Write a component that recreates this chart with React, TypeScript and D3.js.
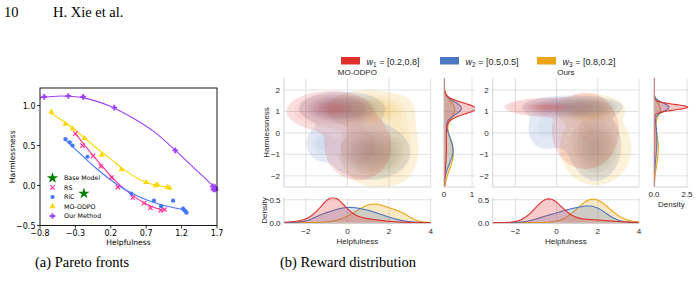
import React from "react";
import * as d3 from "d3";

// ---------- (a) Pareto fronts: points ----------
const baseModel = [[-0.18, -0.1]];
const rsPoints = [[-0.3, 0.65], [-0.2, 0.5], [-0.05, 0.37], [0.06, 0.24], [0.21, 0.1], [0.3, -0.02], [0.51, -0.15], [0.67, -0.22], [0.76, -0.28], [0.905, -0.31], [0.96, -0.3]];
const ricPoints = [[-0.44, 0.58], [-0.38, 0.54], [-0.34, 0.5], [-0.13, 0.36], [0.49, -0.1], [0.81, -0.19], [0.91, -0.26], [1.08, -0.19], [1.22, -0.29], [1.24, -0.31], [1.26, -0.33], [1.27, -0.34]];
const moodpoPoints = [[-0.64, 0.92], [-0.44, 0.77], [-0.34, 0.71], [-0.17, 0.59], [0.07, 0.38], [0.35, 0.2], [0.7, 0.04], [0.83, 0.0], [0.86, 0.01], [1.0, -0.02], [1.03, -0.03]];
const oursPoints = [[-0.74, 1.11], [-0.4, 1.12], [-0.19, 1.11], [0.25, 0.975], [1.11, 0.44], [1.64, -0.01], [1.66, -0.04], [1.68, -0.05], [1.67, -0.02], [1.65, -0.05]];

// fitted fronts
const rsCurve = [[-0.3, 0.65], [-0.1, 0.43], [0.1, 0.22], [0.3, 0.03], [0.5, -0.12], [0.7, -0.23], [0.9, -0.3], [0.96, -0.31]];
const ricCurve = [[-0.44, 0.57], [-0.2, 0.37], [0.0, 0.21], [0.2, 0.07], [0.4, -0.05], [0.6, -0.14], [0.8, -0.21], [1.0, -0.26], [1.27, -0.31]];
const moodpoCurve = [[-0.64, 0.9], [-0.4, 0.76], [-0.2, 0.62], [0.0, 0.47], [0.2, 0.33], [0.4, 0.19], [0.6, 0.08], [0.8, 0.01], [1.04, -0.02]];
const oursCurve = [[-0.8, 1.1], [-0.5, 1.12], [-0.2, 1.1], [0.2, 0.99], [0.5, 0.85], [0.8, 0.68], [1.1, 0.45], [1.4, 0.2], [1.7, -0.05]];

const leftXTicks = [-0.8, -0.3, 0.2, 0.7, 1.2, 1.7];
const leftYTicks = [-0.5, 0, 0.5, 1.0];

// ---------- (b) Reward distribution: KDE shapes read as blobs ----------
// each blob: centre (helpfulness, harmlessness), spreads, weight
type Blob = { x: number; y: number; sx: number; sy: number; w: number };

const weightNames = ["1", "2", "3"];
const weightValues = ["[0.2,0.8]", "[0.5,0.5]", "[0.8,0.2]"];
const weightColors = ["#e0302b", "#4c78c2", "#eca514"];

const moodpoW1: Blob[] = [
  { x: -0.7, y: 1.15, sx: 0.55, sy: 0.25, w: 0.58 },
  { x: 0.5, y: -0.6, sx: 1.0, sy: 1.0, w: 0.22 },
  { x: -1.1, y: 1.0, sx: 0.85, sy: 0.4, w: 0.2 },
];
const moodpoW2: Blob[] = [
  { x: -0.3, y: 1.15, sx: 0.8, sy: 0.3, w: 0.45 },
  { x: 1.1, y: -0.9, sx: 0.9, sy: 0.6, w: 0.4 },
  { x: -1.3, y: -0.5, sx: 0.4, sy: 0.45, w: 0.05 },
  { x: 0.3, y: 0.1, sx: 1.0, sy: 0.9, w: 0.1 },
];
const moodpoW3: Blob[] = [
  { x: 1.0, y: 1.1, sx: 0.9, sy: 0.4, w: 0.35 },
  { x: 1.4, y: -1.0, sx: 0.8, sy: 0.7, w: 0.5 },
  { x: 2.6, y: -0.3, sx: 0.45, sy: 1.0, w: 0.12 },
];

const oursW1: Blob[] = [
  { x: -0.4, y: 1.2, sx: 0.65, sy: 0.13, w: 0.82 },
  { x: 1.4, y: 0.1, sx: 1.1, sy: 1.2, w: 0.18 },
];
const oursW2: Blob[] = [
  { x: 0.8, y: 1.2, sx: 0.9, sy: 0.2, w: 0.55 },
  { x: 1.9, y: -0.6, sx: 0.6, sy: 0.8, w: 0.33 },
  { x: -0.6, y: 0.2, sx: 0.55, sy: 0.65, w: 0.08 },
  { x: 0.6, y: 0.0, sx: 0.6, sy: 0.7, w: 0.04 },
];
const oursW3: Blob[] = [
  { x: 1.6, y: 1.1, sx: 0.7, sy: 0.3, w: 0.35 },
  { x: 1.9, y: -0.7, sx: 0.8, sy: 0.8, w: 0.65 },
];

const mainXTicks = [-2, 0, 2, 4];
const mainYTicks = [-2, -1, 0, 1, 2];
const densTicks = [0, 0.5];

const SANS = "'Liberation Sans', Arial, sans-serif";
const DEJAVU = "'DejaVu Sans', sans-serif";
const SERIF = "'Liberation Serif', 'Times New Roman', serif";
const GRID = "#dcdcdc";
const TXT = "#262626";

const gauss = (v: number, m: number, s: number) =>
  Math.exp(-0.5 * ((v - m) / s) ** 2) / (s * Math.sqrt(2 * Math.PI));

function dens2(blobs: Blob[], x: number, y: number) {
  const tw = d3.sum(blobs, (b) => b.w);
  return d3.sum(blobs, (b) => b.w * gauss(x, b.x, b.sx) * gauss(y, b.y, b.sy)) / tw;
}
function densX(blobs: Blob[], x: number) {
  const tw = d3.sum(blobs, (b) => b.w);
  return d3.sum(blobs, (b) => b.w * gauss(x, b.x, b.sx)) / tw;
}
function densY(blobs: Blob[], y: number) {
  const tw = d3.sum(blobs, (b) => b.w);
  return d3.sum(blobs, (b) => b.w * gauss(y, b.y, b.sy)) / tw;
}

// iso-proportion levels, like seaborn's kdeplot(levels=10, thresh=.05)
function isoLevels(vals: number[]) {
  const sorted = [...vals].sort((a, b) => a - b);
  const total = d3.sum(sorted);
  const qs = d3.range(9).map((k) => 0.05 + (k * 0.95) / 9);
  const out: number[] = [];
  let cum = 0;
  let k = 0;
  for (const v of sorted) {
    cum += v;
    while (k < qs.length && cum / total >= qs[k]) {
      out.push(v);
      k++;
    }
  }
  return out;
}

const MAIN_TOP = 78;
const MAIN_BOTTOM = 187;
const BOT_TOP = 197.5;
const BOT_BOTTOM = 223.5;
const Y_MIN = -2.52;
const Y_MAX = 2.56;
const yMain = d3.scaleLinear().domain([Y_MIN, Y_MAX]).range([MAIN_BOTTOM, MAIN_TOP]);
const yBot = d3.scaleLinear().domain([-0.02, 0.55]).range([BOT_BOTTOM, BOT_TOP]);

type JointProps = {
  id: string;
  title: string;
  series: Blob[][];
  xMin: number;
  px0: number;
  px1: number;
  rx0: number;
  rx1: number;
  rMax: number;
  rTicks: number[];
  rFmt: (d: number) => string;
  first: boolean;
};

function Joint(p: JointProps) {
  const xMax = 4;
  const x = d3.scaleLinear().domain([p.xMin, xMax]).range([p.px0, p.px1]);
  const rx = d3.scaleLinear().domain([0, p.rMax]).range([p.rx0, p.rx1]);

  const nx = 150;
  const ny = 110;
  const dx = (xMax - p.xMin) / nx;
  const dy = (Y_MAX - Y_MIN) / ny;
  const path = d3.geoPath(
    d3.geoTransform({
      point(gx: number, gy: number) {
        (this as any).stream.point(x(p.xMin + gx * dx), yMain(Y_MIN + gy * dy));
      },
    })
  );

  // draw order: w3 under, w1 on top
  const order = [2, 1, 0];
  const contours = order.map((si) => {
    const blobs = p.series[si];
    const vals: number[] = new Array(nx * ny);
    for (let j = 0; j < ny; j++)
      for (let i = 0; i < nx; i++)
        vals[j * nx + i] = dens2(blobs, p.xMin + (i + 0.5) * dx, Y_MIN + (j + 0.5) * dy);
    const levels = isoLevels(vals);
    return { si, polys: d3.contours().size([nx, ny]).thresholds(levels)(vals).map((c) => path(c as any) || "") };
  });

  const xs = d3.range(p.xMin, xMax + 0.001, 0.04);
  const ys = d3.range(Y_MIN, Y_MAX + 0.001, 0.02);
  const areaB = d3
    .area<number>()
    .x((v) => x(v))
    .y0(yBot(0))
    .curve(d3.curveBasis);
  const areaR = d3
    .area<number>()
    .y((v) => yMain(v))
    .x0(rx(0))
    .curve(d3.curveBasis);

  const cx = (p.px0 + p.px1) / 2;

  return (
    <g>
      <defs>
        <clipPath id={`${p.id}-main`}>
          <rect x={p.px0} y={MAIN_TOP} width={p.px1 - p.px0} height={MAIN_BOTTOM - MAIN_TOP} />
        </clipPath>
        <clipPath id={`${p.id}-bot`}>
          <rect x={p.px0} y={BOT_TOP} width={p.px1 - p.px0} height={BOT_BOTTOM - BOT_TOP} />
        </clipPath>
        <clipPath id={`${p.id}-right`}>
          <rect x={p.rx0} y={MAIN_TOP} width={p.rx1 - p.rx0} height={MAIN_BOTTOM - MAIN_TOP} />
        </clipPath>
      </defs>

      <text x={cx} y={74.5} textAnchor="middle" fontSize={8} fontFamily={SANS} fill={TXT}>
        {p.title}
      </text>

      {/* grids */}
      {mainXTicks.map((t) => (
        <g key={`gx${t}`}>
          <line x1={x(t)} x2={x(t)} y1={MAIN_TOP} y2={MAIN_BOTTOM} stroke={GRID} strokeWidth={0.9} />
          <line x1={x(t)} x2={x(t)} y1={BOT_TOP} y2={BOT_BOTTOM} stroke={GRID} strokeWidth={0.9} />
        </g>
      ))}
      {mainYTicks.map((t) => (
        <g key={`gy${t}`}>
          <line x1={p.px0} x2={p.px1} y1={yMain(t)} y2={yMain(t)} stroke={GRID} strokeWidth={0.9} />
          <line x1={p.rx0} x2={p.rx1} y1={yMain(t)} y2={yMain(t)} stroke={GRID} strokeWidth={0.9} />
        </g>
      ))}
      {densTicks.map((t) => (
        <line key={`gd${t}`} x1={p.px0} x2={p.px1} y1={yBot(t)} y2={yBot(t)} stroke={GRID} strokeWidth={0.9} />
      ))}
      {p.rTicks.map((t) => (
        <line key={`gr${t}`} x1={rx(t)} x2={rx(t)} y1={MAIN_TOP} y2={MAIN_BOTTOM} stroke={GRID} strokeWidth={0.9} />
      ))}

      {/* joint KDE */}
      <g clipPath={`url(#${p.id}-main)`}>
        {contours.map(({ si, polys }) =>
          polys.map((d, k) => (
            <path key={`c${si}-${k}`} d={d} fill={weightColors[si]} fillOpacity={k === 0 ? 0.16 : 0.055} stroke="none" />
          ))
        )}
      </g>

      {/* bottom marginal */}
      <g clipPath={`url(#${p.id}-bot)`}>
        {order.map((si) => (
          <g key={`b${si}`}>
            <path d={areaB.y1((v) => yBot(densX(p.series[si], v)))(xs) || ""} fill={weightColors[si]} fillOpacity={0.25} />
            <path
              d={d3.line<number>().x((v) => x(v)).y((v) => yBot(densX(p.series[si], v))).curve(d3.curveBasis)(xs) || ""}
              fill="none"
              stroke={weightColors[si]}
              strokeWidth={1.1}
            />
          </g>
        ))}
      </g>

      {/* right marginal */}
      <g clipPath={`url(#${p.id}-right)`}>
        {order.map((si) => (
          <g key={`r${si}`}>
            <path d={areaR.x1((v) => rx(densY(p.series[si], v)))(ys) || ""} fill={weightColors[si]} fillOpacity={0.25} />
            <path
              d={d3.line<number>().y((v) => yMain(v)).x((v) => rx(densY(p.series[si], v))).curve(d3.curveBasis)(ys) || ""}
              fill="none"
              stroke={weightColors[si]}
              strokeWidth={1.1}
            />
          </g>
        ))}
      </g>

      {/* spines */}
      <g stroke="#cccccc" strokeWidth={0.9} fill="none">
        <line x1={p.px0} x2={p.px0} y1={MAIN_TOP} y2={MAIN_BOTTOM} />
        <line x1={p.px0} x2={p.px1} y1={MAIN_BOTTOM} y2={MAIN_BOTTOM} />
        <line x1={p.px0} x2={p.px0} y1={BOT_TOP} y2={BOT_BOTTOM} />
        <line x1={p.px0} x2={p.px1} y1={BOT_BOTTOM} y2={BOT_BOTTOM} />
        <line x1={p.rx0} x2={p.rx0} y1={MAIN_TOP} y2={MAIN_BOTTOM} />
        <line x1={p.rx0} x2={p.rx1} y1={MAIN_BOTTOM} y2={MAIN_BOTTOM} />
      </g>

      {/* tick labels */}
      <g fontSize={8} fontFamily={SANS} fill={TXT}>
        {mainYTicks.map((t) => (
          <text key={`ly${t}`} x={p.px0 - 4} y={yMain(t) + 3} textAnchor="end">
            {d3.format("d")(t)}
          </text>
        ))}
        {densTicks.map((t) => (
          <text key={`ld${t}`} x={p.px0 - 3.5} y={yBot(t) + 3} textAnchor="end">
            {d3.format(".1f")(t)}
          </text>
        ))}
        {mainXTicks.map((t) => (
          <text key={`lx${t}`} x={x(t)} y={BOT_BOTTOM + 10} textAnchor="middle">
            {d3.format("d")(t)}
          </text>
        ))}
        {p.rTicks.map((t) => (
          <text key={`lr${t}`} x={rx(t)} y={MAIN_BOTTOM + 10} textAnchor="middle">
            {p.rFmt(t)}
          </text>
        ))}
        <text x={cx} y={BOT_BOTTOM + 20} textAnchor="middle">
          Helpfulness
        </text>
        {p.first ? (
          <>
            <text transform={`translate(${p.px0 - 15},${(MAIN_TOP + MAIN_BOTTOM) / 2}) rotate(-90)`} textAnchor="middle">
              Harmlessness
            </text>
            <text transform={`translate(${p.px0 - 17},${(BOT_TOP + BOT_BOTTOM) / 2}) rotate(-90)`} textAnchor="middle">
              Density
            </text>
          </>
        ) : (
          <text x={(p.rx0 + p.rx1) / 2} y={MAIN_BOTTOM + 20} textAnchor="middle">
            Density
          </text>
        )}
      </g>
    </g>
  );
}

function ParetoPanel() {
  const x = d3.scaleLinear().domain([-0.8, 1.7]).range([40, 217]);
  const y = d3.scaleLinear().domain([-0.5, 1.22]).range([225.5, 88]);
  const [x0, x1] = x.range();
  const [y0, y1] = y.range();
  const line = d3
    .line<number[]>()
    .x((d) => x(d[0]))
    .y((d) => y(d[1]))
    .curve(d3.curveCatmullRom.alpha(0.5));
  const fmt = d3.format(".1f");

  const star = d3.symbol(d3.symbolStar, 40)() || "";
  const cross = d3.symbol(d3.symbolTimes, 14)() || "";
  const circle = d3.symbol(d3.symbolCircle, 14)() || "";
  const tri = d3.symbol(d3.symbolTriangle, 15)() || "";
  const plus = d3.symbol(d3.symbolCross, 18)() || "";

  const series = [
    { name: "Base Model", pts: baseModel, curve: null, color: "#008000", mark: star, stroke: false },
    { name: "RS", pts: rsPoints, curve: rsCurve, color: "#ff3399", mark: cross, stroke: true },
    { name: "RiC", pts: ricPoints, curve: ricCurve, color: "#4477ff", mark: circle, stroke: false },
    { name: "MO-ODPO", pts: moodpoPoints, curve: moodpoCurve, color: "#ffd700", mark: tri, stroke: false },
    { name: "Our Method", pts: oursPoints, curve: oursCurve, color: "#a040ff", mark: plus, stroke: false },
  ];

  return (
    <g fontFamily={DEJAVU} fill="#000">
      {series.map((s) =>
        s.curve ? <path key={`l${s.name}`} d={line(s.curve) || ""} fill="none" stroke={s.color} strokeWidth={1.1} /> : null
      )}
      {series.map((s) =>
        s.pts.map((d, i) => (
          <path
            key={`${s.name}${i}`}
            d={s.mark}
            transform={`translate(${x(d[0])},${y(d[1])})`}
            fill={s.stroke ? "none" : s.color}
            stroke={s.color}
            strokeWidth={s.stroke ? 1.2 : 0}
          />
        ))
      )}
      <rect x={x0} y={y1} width={x1 - x0} height={y0 - y1} fill="none" stroke="#000" strokeWidth={0.9} />
      {leftXTicks.map((t) => (
        <g key={`tx${t}`}>
          <line x1={x(t)} x2={x(t)} y1={y0} y2={y0 + 3} stroke="#000" strokeWidth={0.8} />
          <text x={x(t)} y={y0 + 10} textAnchor="middle" fontSize={8}>
            {fmt(t)}
          </text>
        </g>
      ))}
      {leftYTicks.map((t) => (
        <g key={`ty${t}`}>
          <line x1={x0 - 3} x2={x0} y1={y(t)} y2={y(t)} stroke="#000" strokeWidth={0.8} />
          <text x={x0 - 4.5} y={y(t) + 3} textAnchor="end" fontSize={8}>
            {fmt(t)}
          </text>
        </g>
      ))}
      <text transform={`translate(14.5,${(y0 + y1) / 2}) rotate(-90)`} textAnchor="middle" fontSize={7.6}>
        Harmlessness
      </text>
      <text x={(x0 + x1) / 2} y={245} textAnchor="middle" fontSize={7.6}>
        Helpfulness
      </text>
      {series.map((s, i) => (
        <g key={`lg${s.name}`}>
          <path
            d={s.mark}
            transform={`translate(52.5,${178 + i * 9.5})`}
            fill={s.stroke ? "none" : s.color}
            stroke={s.color}
            strokeWidth={s.stroke ? 1.2 : 0}
          />
          <text x={64} y={180.3 + i * 9.5} fontSize={6.3}>
            {s.name}
          </text>
        </g>
      ))}
    </g>
  );
}

export default function App() {
  const legendX = [341, 440, 537];
  return (
    <svg width={700} height={287} style={{ position: "absolute", left: 0, top: 0, background: "#fff" }}>
      <rect width={700} height={287} fill="#fff" />
      <g fontFamily={SERIF} fontSize={14.5} fill="#000">
        <text x={4} y={17}>10</text>
        <text x={53} y={17}>H. Xie et al.</text>
        <text x={35} y={267}>(a) Pareto fronts</text>
        <text x={280} y={267}>(b) Reward distribution</text>
      </g>

      <ParetoPanel />

      {/* shared legend */}
      <g fontFamily={SANS} fontSize={9} fill={TXT}>
        {legendX.map((lx, i) => (
          <g key={`leg${i}`}>
            <rect x={lx} y={57} width={19} height={7.5} fill={weightColors[i]} />
            <text x={lx + 25.5} y={64.5}>
              <tspan fontStyle="italic">w</tspan>
              <tspan fontSize={6.5} dy={2}>{weightNames[i]}</tspan>
              <tspan dy={-2}>{` = ${weightValues[i]}`}</tspan>
            </text>
          </g>
        ))}
      </g>

      <Joint
        id="j1"
        title="MO-ODPO"
        series={[moodpoW1, moodpoW2, moodpoW3]}
        xMin={-3.05}
        px0={284}
        px1={430.7}
        rx0={444}
        rx1={474.8}
        rMax={1.1}
        rTicks={[0, 1]}
        rFmt={d3.format("d")}
        first={true}
      />
      <Joint
        id="j2"
        title="Ours"
        series={[oursW1, oursW2, oursW3]}
        xMin={-3.1}
        px0={492.7}
        px1={639}
        rx0={654}
        rx1={688.6}
        rMax={2.62}
        rTicks={[0, 2.5]}
        rFmt={d3.format(".1f")}
        first={false}
      />
    </svg>
  );
}
